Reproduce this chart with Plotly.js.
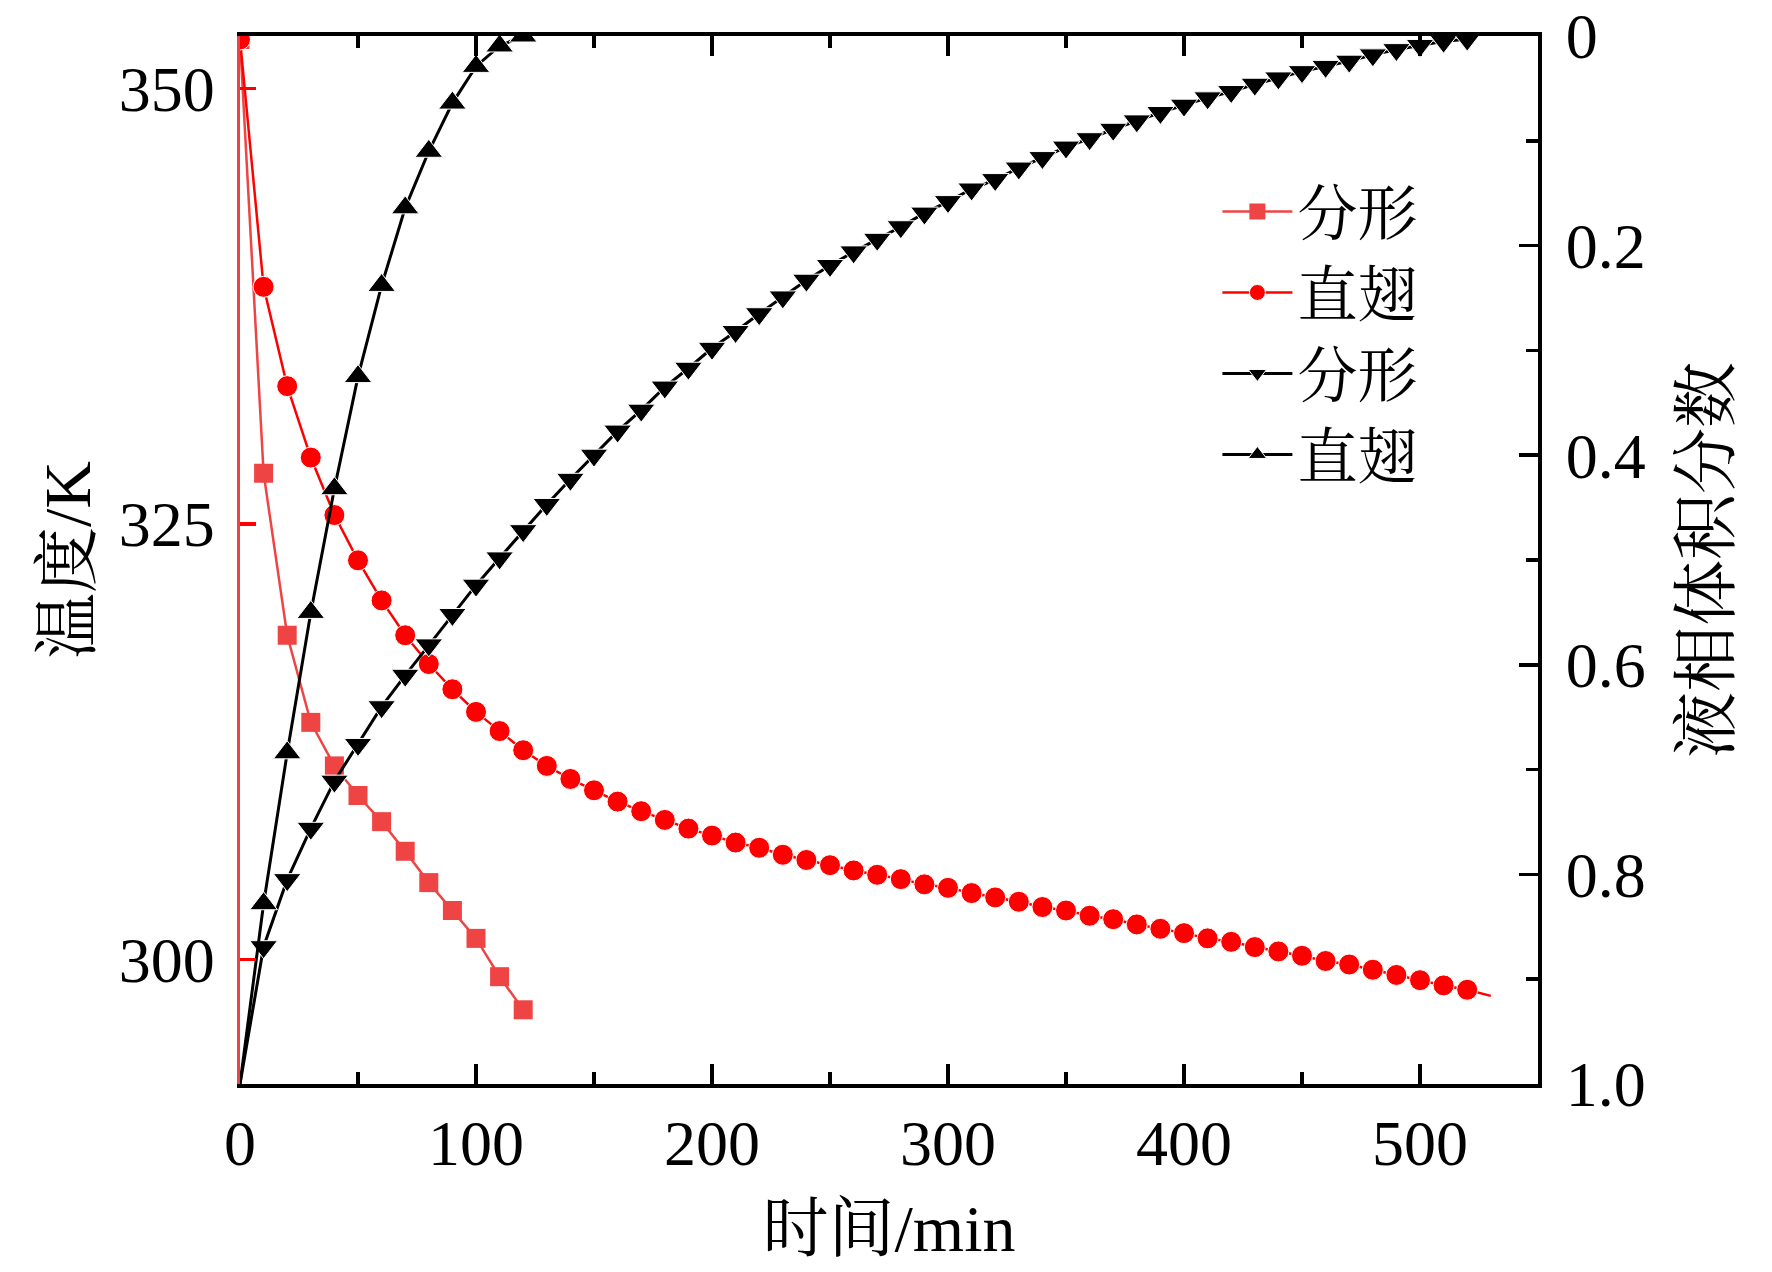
<!DOCTYPE html>
<html>
<head>
<meta charset="utf-8">
<script src="https://cdn.plot.ly/plotly-3.0.1.min.js"></script>
<style>html,body{margin:0;padding:0;background:#fff;}#chart{width:1772px;height:1272px;}</style>
</head>
<body>
<div id="chart"></div>
<script>
// Time axes (min)
const timeFracTemp = [0,10,20,30,40,50,60,70,80,90,100,110,120];
const timeZhiTemp = [0,10,20,30,40,50,60,70,80,90,100,110,120,130,140,150,160,170,180,190,200,210,220,230,240,250,260,270,280,290,300,310,320,330,340,350,360,370,380,390,400,410,420,430,440,450,460,470,480,490,500,510,520,530];
const timeFracVol = [0,10,20,30,40,50,60,70,80,90,100,110,120,130,140,150,160,170,180,190,200,210,220,230,240,250,260,270,280,290,300,310,320,330,340,350,360,370,380,390,400,410,420,430,440,450,460,470,480,490,500,510,520];
const timeZhiVol = [0,10,20,30,40,50,60,70,80,90,100,110,120];

// Temperature (K), left axis
const tempFrac = [352.8,327.9,318.6,313.6,311.1,309.4,307.9,306.2,304.4,302.8,301.2,299.0,297.1];
const tempZhi = [352.8,338.6,332.9,328.8,325.5,322.9,320.6,318.6,316.95,315.5,314.2,313.1,312.0,311.1,310.35,309.7,309.05,308.5,308.0,307.5,307.1,306.7,306.4,306.0,305.7,305.4,305.1,304.85,304.6,304.3,304.1,303.8,303.55,303.3,303.0,302.8,302.5,302.3,302.0,301.75,301.5,301.2,301.0,300.7,300.45,300.2,299.9,299.7,299.4,299.1,298.8,298.5,298.25,297.9];

// Liquid volume fraction, right axis (reversed)
const volFrac = [1.0,0.869,0.805,0.756,0.711,0.676,0.640,0.610,0.581,0.552,0.524,0.498,0.472,0.447,0.423,0.400,0.377,0.357,0.335,0.317,0.298,0.282,0.265,0.249,0.233,0.219,0.206,0.194,0.182,0.169,0.158,0.146,0.137,0.126,0.116,0.106,0.098,0.089,0.081,0.073,0.066,0.059,0.053,0.046,0.040,0.034,0.029,0.024,0.018,0.013,0.009,0.005,0.003];
const volZhi = [1.0,0.828,0.684,0.550,0.432,0.325,0.238,0.164,0.110,0.064,0.029,0.0095,0.0];

// Labels
const seriesNames = ['分形','直翅','分形','直翅'];
const xTickVals = [0,100,200,300,400,500];
const yTickVals = [300,325,350];
const y2TickVals = [0,0.2,0.4,0.6,0.8,1.0];
const y2TickText = ['0','0.2','0.4','0.6','0.8','1.0'];
const xTitle = '时间/min';
const yTitle = '温度/K';
const y2Title = '液相体积分数';

const FONT = "'Liberation Serif', 'Times New Roman', 'Noto Serif CJK SC', 'Noto Sans CJK SC', serif";

// marker visibility: no marker on the last (line-only) point of 直翅 temperature, none at t=0 for volume curves
const zhiTempSizes = timeZhiTemp.map((t, i) => i === timeZhiTemp.length - 1 ? 0 : 21);
const fracVolSizes = timeFracVol.map((t, i) => i === 0 ? 0 : 24);
const zhiVolSizes = timeZhiVol.map((t, i) => i === 0 ? 0 : 24);

const traces = [
  {x: timeFracTemp, y: tempFrac, name: seriesNames[0], type: 'scatter', mode: 'lines+markers',
   line: {color: '#EE4444', width: 2.5}, marker: {symbol: 'square', size: 19, color: '#EE4444', opacity: 1}, yaxis: 'y'},
  {x: timeZhiTemp, y: tempZhi, name: seriesNames[1], type: 'scatter', mode: 'lines+markers',
   line: {color: '#FF0000', width: 2.5}, marker: {symbol: 'circle', size: zhiTempSizes, color: '#FF0000', opacity: 1}, yaxis: 'y'},
  {x: timeFracVol, y: volFrac, name: seriesNames[2], type: 'scatter', mode: 'lines+markers',
   line: {color: '#000000', width: 3}, marker: {symbol: 'triangle-down', size: fracVolSizes, color: '#000000', opacity: 1}, yaxis: 'y2'},
  {x: timeZhiVol, y: volZhi, name: seriesNames[3], type: 'scatter', mode: 'lines+markers',
   line: {color: '#000000', width: 3}, marker: {symbol: 'triangle-up', size: zhiVolSizes, color: '#000000', opacity: 1}, yaxis: 'y2'}
];

const layout = {
  width: 1772, height: 1272,
  margin: {l: 240, r: 234, t: 36, b: 188, pad: 0},
  paper_bgcolor: '#ffffff', plot_bgcolor: '#ffffff',
  font: {family: FONT, color: '#000000', size: 60},
  showlegend: true,
  legend: {x: 0.753, y: 0.876, xanchor: 'left', yanchor: 'top', bgcolor: 'rgba(0,0,0,0)',
           font: {family: FONT, size: 60, color: '#000'}, itemwidth: 70, tracegroupgap: 0, itemsizing: 'trace'},
  xaxis: {range: [0, 550], tickvals: xTickVals, ticks: 'inside', ticklen: 20, tickwidth: 3.5, tickcolor: '#000',
          showline: true, linecolor: '#000', linewidth: 4, mirror: 'ticks', showgrid: false, zeroline: false,
          minor: {dtick: 50, tick0: 0, ticks: 'inside', ticklen: 12, tickwidth: 3.5, tickcolor: '#000', showgrid: false},
          tickfont: {family: FONT, size: 64}, ticklabelstandoff: 0, ticklabeloverflow: 'allow',
          title: {text: xTitle, font: {family: FONT, size: 66}, standoff: 28}},
  yaxis: {range: [292.84, 353], tickvals: yTickVals, ticks: 'inside', ticklen: 16, tickwidth: 3.5, tickcolor: '#FF0000',
          showline: true, linecolor: '#E84646', linewidth: 3.5, showgrid: false, zeroline: false,
          tickfont: {family: FONT, size: 64}, ticklabelstandoff: 9, ticklabeloverflow: 'allow',
          title: {text: yTitle, font: {family: FONT, size: 66}, standoff: 7}},
  yaxis2: {overlaying: 'y', side: 'right', range: [1, 0], tickvals: y2TickVals, ticktext: y2TickText,
           ticks: 'inside', ticklen: 19, tickwidth: 3.5, tickcolor: '#000',
           minor: {dtick: 0.1, tick0: 0, ticks: 'inside', ticklen: 12, tickwidth: 3.5, tickcolor: '#000', showgrid: false},
           showline: true, linecolor: '#000', linewidth: 4, showgrid: false, zeroline: false,
           tickfont: {family: FONT, size: 64}, ticklabelstandoff: 11, ticklabeloverflow: 'allow',
           title: {text: y2Title, font: {family: FONT, size: 66}, standoff: 39}}
};

Plotly.newPlot('chart', traces, layout, {staticPlot: true, displayModeBar: false});
</script>
</body>
</html>
